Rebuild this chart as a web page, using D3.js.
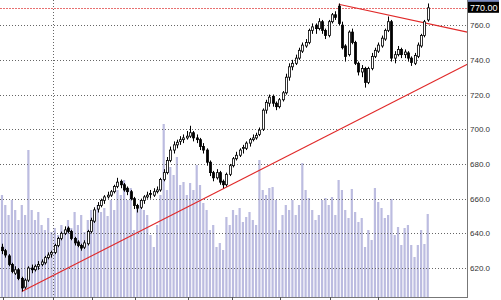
<!DOCTYPE html>
<html><head><meta charset="utf-8">
<script src="https://cdn.jsdelivr.net/npm/d3@7/dist/d3.min.js"></script>
<style>html,body{margin:0;padding:0;background:#fff;}svg{display:block;}</style>
</head><body>
<script>
// ---- data ----
const opens = [632,630,627,622,617,619,614,609,613,620,619,621,622,623,626,628,629,633,637,640,
643,641,637,635,633,632,634,641,647,654,656,659,661,662,664,667,670,668,666,664,
660,656,655,659,661,663,662,664,665,671,675,682,688,691,693,694,695,696,698,695,
694,690,688,681,675,672,675,670,668,674,679,683,685,689,689,692,694,695,697,700,
711,715,719,715,713,717,721,730,736,738,741,745,748,750,757,760,758,762,757,754,
762,766,771,760,748,743,756,750,738,733,735,727,735,742,745,748,752,757,762,741,
743,746,743,744,741,738,742,748,754,763];
const highs = [634,631,628,623,621,620,615,614,621,622,622,624,625,627,629,630,634,638,641,644,
644,642,638,636,634,636,642,649,655,658,660,662,664,665,668,672,671,669,667,665,
661,657,660,662,664,665,666,667,672,677,684,690,693,694,696,697,699,702,699,697,
695,692,689,682,676,677,676,671,675,680,684,687,689,691,693,695,697,698,701,712,
717,720,720,716,718,722,732,738,740,743,747,750,752,758,761,761,764,763,758,763,
767,768,772.5,762,749,757,758,751,739,737,736,736,744,747,750,754,758,765,763,745,
748,747,746,745,742,744,750,755,763,772.5];
const lows = [628,626,621,617,616,613,606.5,608,612,617,618,619,621,622,625,626,628,632,636,639,
640,636,633,632,630,631,633,640,646,652,655,657,660,661,663,666,666,664,662,659,
654,652,654,657,660,660,661,663,664,670,674,681,686,689,691,692,694,695,693,692,
688,686,679,673,670,671,668,666,667,673,678,682,684,686,688,690,693,694,696,699,
709,713,713,711,712,716,720,728,734,737,740,744,747,749,755,755,757,755,752,753,
761,763,760,746,739,742,749,737,731,730,724,726,734,741,744,747,751,756,739,738,
742,741,741,739,736.5,737,741,747,753,762];
const closes = [630,627.5,622,618,619,614,608.5,613,620,619,621,622,623.5,626,627.5,629,633,637,640,642,
641,637,634.5,633,631.5,634.5,641,647.5,653.5,656,659,661,662,664,667,669.5,668,665,664,660,
656,654.5,659,661,662,662.5,664,665,671,675,682,688,691,692.5,694,695,696,698,695,694,
690,688,681,675,672,675,669.5,668,674,679,683,685,688,689.5,692,694,695,696.5,699.5,711,
715.5,718.5,715,713,717,721,730,736,738,741,745.5,748.5,750,757,759,758,762,757,754,762,
766,764.5,761,747,742,756,750,738,733,735,727,735,742,745.5,748.5,752.5,757,762,741,743,
746,743,744.5,741,738.5,742.5,748.5,754,762,770];
const volumes = [102,92,82,97,87,77,92,82,147,87,77,85,72,67,79,65,69,62,72,67,
77,69,85,72,82,65,77,87,82,92,85,89,81,97,87,107,102,117,97,109,
67,92,97,87,82,62,50,72,102,173,107,130,122,140,112,115,102,114,107,132,
112,94,87,67,72,50,54,47,80,72,87,82,89,75,80,85,77,72,137,107,
102,109,110,97,67,82,92,87,97,82,92,134,107,99,87,77,82,97,99,92,
100,82,117,107,87,79,108,85,75,79,50,67,57,109,95,89,79,82,98,62,
70,52,69,72,52,40,52,67,53,83];
const priceTicks = [620,640,660,680,700,720,740,760];
const lastPrice = 770;
const monthTicks = [0.3,15.5,27.3,40.3,56.4,69.7,84.2,99.4,114];
const gridDateTicks = [15.5];
const upperTrend = [[102,772],[141,756]];
const lowerTrend = [[6,606.5],[141,737.5]];

// ---- layout ----
const W = 501, H = 300;
const plotR = 467, plotB = 297;
const svg = d3.select("body").append("svg").attr("width", W).attr("height", H);

const x = d3.scaleLinear().domain([-0.6, 140.9]).range([0, plotR]);
const y = d3.scaleLinear().domain([603.3, 774.5]).range([plotB, 0]);
const v = d3.scaleLinear().domain([0, 300]).range([plotB, plotB - 300]);

const idx = d3.range(closes.length);

// volume bars
svg.append("g").selectAll("rect").data(idx).join("rect")
  .attr("x", i => x(i) - 1.1).attr("width", 2.2)
  .attr("y", i => v(volumes[i])).attr("height", i => plotB - v(volumes[i]))
  .attr("fill", "#bcbce0");

// grid lines
const grid = svg.append("g").attr("stroke", "#666").attr("stroke-dasharray", "1,2").attr("stroke-width", 1);
grid.selectAll("line.h").data(priceTicks).join("line")
  .attr("x1", 0).attr("x2", plotR)
  .attr("y1", d => Math.round(y(d)) + 0.5).attr("y2", d => Math.round(y(d)) + 0.5);
grid.selectAll("line.v").data(gridDateTicks).join("line")
  .attr("y1", 0).attr("y2", plotB)
  .attr("x1", d => Math.round(x(d)) + 0.5).attr("x2", d => Math.round(x(d)) + 0.5);

// last price line
svg.append("line")
  .attr("x1", 0).attr("x2", plotR)
  .attr("y1", Math.round(y(lastPrice)) + 0.5).attr("y2", Math.round(y(lastPrice)) + 0.5)
  .attr("stroke", "#e87070").attr("stroke-dasharray", "2,1").attr("stroke-width", 1);

// trend lines
const tl = d3.line().x(d => x(d[0])).y(d => y(d[1]));
[upperTrend, lowerTrend].forEach(t => {
  svg.append("path").attr("d", tl(t)).attr("fill", "none")
    .attr("stroke", "#e02828").attr("stroke-width", 1.1);
});

// candles
const cg = svg.append("g");
cg.selectAll("line").data(idx).join("line")
  .attr("x1", i => Math.round(x(i)) + 0.5).attr("x2", i => Math.round(x(i)) + 0.5)
  .attr("y1", i => y(highs[i])).attr("y2", i => y(lows[i]))
  .attr("stroke", "#000").attr("stroke-width", 1);
cg.selectAll("rect").data(idx).join("rect")
  .attr("x", i => Math.round(x(i)) - 0.5).attr("width", 2)
  .attr("y", i => y(Math.max(opens[i], closes[i])))
  .attr("height", i => Math.max(1, Math.abs(y(opens[i]) - y(closes[i]))))
  .attr("fill", i => closes[i] >= opens[i] ? "#fff" : "#000")
  .attr("stroke", "#000").attr("stroke-width", 0.8);

// axes frame
svg.append("line").attr("x1", plotR + 0.5).attr("x2", plotR + 0.5).attr("y1", 0).attr("y2", plotB + 1)
  .attr("stroke", "#777");
svg.append("line").attr("x1", 0).attr("x2", plotR + 1).attr("y1", plotB + 0.5).attr("y2", plotB + 0.5)
  .attr("stroke", "#777");
svg.append("g").selectAll("line").data(monthTicks).join("line")
  .attr("x1", d => Math.round(x(d)) + 0.5).attr("x2", d => Math.round(x(d)) + 0.5)
  .attr("y1", plotB).attr("y2", H).attr("stroke", "#555");

// price labels
svg.append("g").selectAll("text").data(priceTicks).join("text")
  .attr("x", plotR + 3).attr("y", d => y(d) + 3)
  .attr("font-family", "Liberation Sans, Arial, sans-serif").attr("font-size", 8)
  .attr("fill", "#333").text(d => d.toFixed(1));

// last price label
svg.append("rect").attr("x", plotR + 1).attr("y", 0).attr("width", 31).attr("height", 2).attr("fill", "#7d8cc0");
svg.append("rect").attr("x", plotR + 1).attr("y", y(lastPrice) - 6).attr("width", 31).attr("height", 11).attr("fill", "#000");
svg.append("text").attr("x", plotR + 3).attr("y", y(lastPrice) + 3)
  .attr("font-family", "Liberation Sans, Arial, sans-serif").attr("font-size", 9)
  .attr("fill", "#fff").text(lastPrice.toFixed(2));
</script>
</body></html>
